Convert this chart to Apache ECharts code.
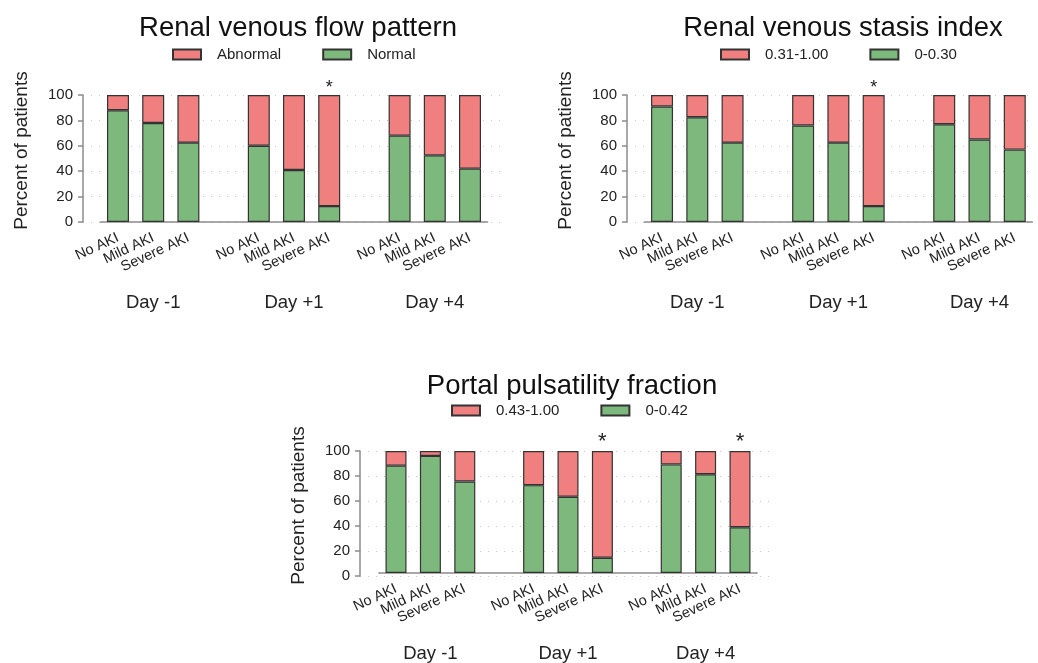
<!DOCTYPE html>
<html><head><meta charset="utf-8">
<script src="https://cdn.jsdelivr.net/npm/echarts@6/dist/echarts.min.js"></script>
<style>html,body{margin:0;padding:0;background:#fff}#c{width:1038px;height:663px}</style>
</head><body><div id="c"></div>
<script>
// ---- data ----
const groups = ['Day -1', 'Day +1', 'Day +4'];
const subcats = ['No AKI', 'Mild AKI', 'Severe AKI'];
const yTicks = [0, 20, 40, 60, 80, 100];

const flowTitle = 'Renal venous flow pattern';
const flowNames = ['Abnormal', 'Normal'];
const flowNormal = [88, 78, 62.5, 60, 41, 12.5, 68, 52.5, 42];
const flowSig = [0, 0, 0, 0, 0, 1, 0, 0, 0];

const stasisTitle = 'Renal venous stasis index';
const stasisNames = ['0.31-1.00', '0-0.30'];
const stasisLow = [91, 82.5, 62.5, 76, 62.5, 12.5, 77, 65, 57];
const stasisSig = [0, 0, 0, 0, 0, 1, 0, 0, 0];

const portalTitle = 'Portal pulsatility fraction';
const portalNames = ['0.43-1.00', '0-0.42'];
const portalLow = [88, 96, 75, 72, 62.5, 12.5, 89, 81, 37.5];
const portalSig = [0, 0, 0, 0, 0, 1, 0, 0, 1];

const yName = 'Percent of patients';

// ---- layout / style ----
const RED = '#F08080', GREEN = '#7DB97D', EDGE = '#333333', AXIS = '#8c8c8c';
const FONT = 'Liberation Sans, Arial, sans-serif';
const charts = [
  {title: flowTitle, names: flowNames, low: flowNormal, sig: flowSig,
   titleX: 293, titleY: 9, legX: 167, legY: 42,
   bg: {left: 83, top: 95, width: 420, height: 127},
   bars: {left: 100.4, top: 95, width: 387.2, height: 127}, barW: 22},
  {title: stasisTitle, names: stasisNames, low: stasisLow, sig: stasisSig,
   titleX: 838, titleY: 9, legX: 715, legY: 42,
   bg: {left: 627, top: 95, width: 408, height: 127},
   bars: {left: 644.4, top: 95, width: 388, height: 127}, barW: 22},
  {title: portalTitle, names: portalNames, low: portalLow, sig: portalSig,
   titleX: 567, titleY: 367, legX: 446, legY: 398,
   bg: {left: 360, top: 451, width: 413, height: 125},
   bars: {left: 378.8, top: 451, width: 378.4, height: 125}, barW: 21}
];

// categories with spacer slots between groups
const cats = [], dayLabels = [], srcIdx = [];
groups.forEach((g, gi) => {
  subcats.forEach((s, si) => {
    cats.push(s);
    dayLabels.push(si === 1 ? g : '');
    srcIdx.push(gi * subcats.length + si);
  });
  if (gi < groups.length - 1) { cats.push(''); dayLabels.push(''); srcIdx.push(-1); }
});

const option = {
  animation: false,
  backgroundColor: '#fff',
  textStyle: {fontFamily: FONT},
  title: [], legend: [], grid: [], xAxis: [], yAxis: [], series: []
};

charts.forEach((c, k) => {
  option.title.push({text: c.title, left: c.titleX, top: c.titleY, textAlign: 'center',
    textStyle: {fontFamily: FONT, fontSize: 27.5, fontWeight: 'normal', color: '#111'}});
  option.legend.push({data: c.names, left: c.legX, top: c.legY, orient: 'horizontal', icon: 'rect',
    itemWidth: 28, itemHeight: 10, itemGap: 41,
    textStyle: {fontFamily: FONT, fontSize: 15, color: '#222', padding: [0, 0, 0, 11]}});
  const gBg = option.grid.length;
  option.grid.push(Object.assign({containLabel: false}, c.bg));
  const gB = option.grid.length;
  option.grid.push(Object.assign({containLabel: false}, c.bars));

  // background grid axes (y labels, ticks, dotted grid lines)
  option.xAxis.push({gridIndex: gBg, type: 'value', show: false, min: 0, max: 1});
  option.yAxis.push({gridIndex: gBg, type: 'value', min: yTicks[0], max: yTicks[yTicks.length - 1],
    interval: yTicks[1] - yTicks[0],
    name: yName, nameLocation: 'middle', nameGap: 52,
    nameTextStyle: {fontFamily: FONT, fontSize: 19, color: '#222', padding: [0, 0, 0, 16]},
    axisLine: {show: true, lineStyle: {color: AXIS, width: 1.5}},
    axisTick: {show: true, length: 5, lineStyle: {color: AXIS, width: 1.5}},
    axisLabel: {fontFamily: FONT, fontSize: 15, color: '#222', margin: 10},
    splitLine: {show: true, lineStyle: {color: '#c8c8c8', type: [1, 7], width: 1.2}}});

  // bars grid axes
  const xCat = option.xAxis.length;
  option.xAxis.push({gridIndex: gB, type: 'category', data: cats, position: 'bottom',
    axisLine: {show: true, lineStyle: {color: AXIS, width: 1.5}},
    axisTick: {show: false},
    axisLabel: {interval: 0, rotate: 25, fontFamily: FONT, fontSize: 14.5, color: '#222', margin: 15}});
  option.xAxis.push({gridIndex: gB, type: 'category', data: dayLabels, position: 'bottom', offset: 71,
    axisLine: {show: false}, axisTick: {show: false},
    axisLabel: {interval: 0, fontFamily: FONT, fontSize: 18.5, color: '#222', margin: 0}});
  const yB = option.yAxis.length;
  option.yAxis.push({gridIndex: gB, type: 'value', min: 0, max: 100, show: false});

  const low = srcIdx.map(i => i < 0 ? '-' : c.low[i]);
  const high = srcIdx.map(i => i < 0 ? '-' : 100 - c.low[i]);
  const sig = srcIdx.map(i => i < 0 ? 0 : c.sig[i]);

  option.series.push({name: c.names[1], type: 'bar', stack: 's' + k, xAxisIndex: xCat, yAxisIndex: yB,
    barWidth: c.barW, data: low,
    itemStyle: {color: GREEN, borderColor: EDGE, borderWidth: 1.2}});
  option.series.push({name: c.names[0], type: 'bar', stack: 's' + k, xAxisIndex: xCat, yAxisIndex: yB,
    barWidth: c.barW, data: high,
    itemStyle: {color: RED, borderColor: EDGE, borderWidth: 1.2},
    label: {show: true, position: 'top', distance: -2, fontFamily: FONT, fontSize: k === 2 ? 22 : 18, color: '#222',
      formatter: p => sig[p.dataIndex] ? '*' : ''}});
});

const chart = echarts.init(document.getElementById('c'), null, {renderer: 'canvas'});
chart.setOption(option);
</script>
</body></html>
